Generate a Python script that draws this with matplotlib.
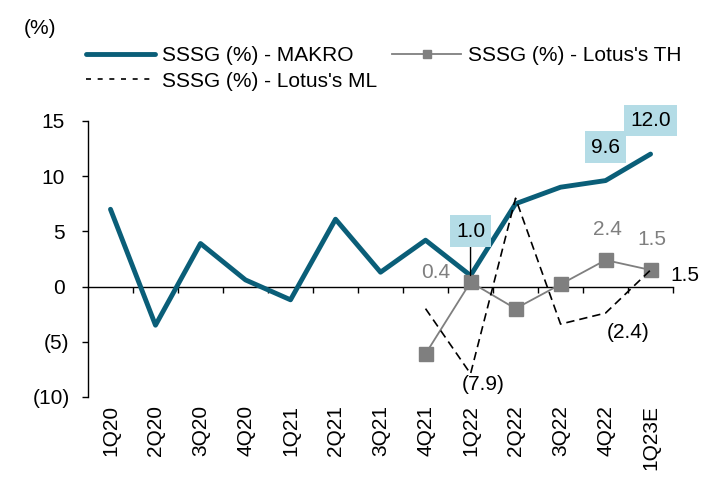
import matplotlib
matplotlib.use("Agg")
import matplotlib.pyplot as plt
from matplotlib.ticker import FuncFormatter
from matplotlib.transforms import ScaledTranslation
import numpy as np

plt.rcParams['font.family'] = ['Liberation Sans', 'DejaVu Sans']

quarters = ["1Q20", "2Q20", "3Q20", "4Q20", "1Q21", "2Q21", "3Q21",
            "4Q21", "1Q22", "2Q22", "3Q22", "4Q22", "1Q23E"]
makro = [7.0, -3.5, 3.9, 0.6, -1.2, 6.1, 1.3, 4.2, 1.0, 7.5, 9.0, 9.6, 12.0]
lotus_th = [np.nan] * 7 + [-6.1, 0.4, -2.0, 0.2, 2.4, 1.5]
lotus_ml = [np.nan] * 7 + [-2.0, -7.9, 8.0, -3.4, -2.4, 1.5]

teal = "#0a5e78"
grey = "#7f7f7f"
box = "#b4dce6"
fs = 15

x = np.arange(len(quarters))

fig = plt.figure(figsize=(7.13, 4.8), dpi=100)
ax = fig.add_axes([0.1234, 0.173, 0.944 - 0.1234, 0.748 - 0.173])

l1, = ax.plot(x, makro, color=teal, lw=3.5, solid_capstyle="round",
              label="SSSG (%) - MAKRO", zorder=3)
l2, = ax.plot(x, lotus_th, color=grey, lw=1.3, marker="s", markersize=10.5,
              label="SSSG (%) - Lotus's TH", zorder=4)
l3, = ax.plot(x, lotus_ml, color="black", lw=1.2, dashes=(5, 3),
              label="SSSG (%) - Lotus's ML", zorder=5)

ax.set_xlim(-0.5, len(quarters) - 0.5)
ax.set_ylim(-10, 15)
ax.set_yticks([-10, -5, 0, 5, 10, 15])
ax.yaxis.set_major_formatter(FuncFormatter(
    lambda v, p: "(%d)" % abs(v) if v < 0 else "%d" % v))
ax.tick_params(axis="y", direction="out", length=4.3, width=1, labelsize=fs, pad=9)
# positive numbers leave room for the closing bracket, like excel
for lab, v in zip(ax.get_yticklabels(), ax.get_yticks()):
    if v >= 0:
        lab.set_transform(lab.get_transform() +
                          ScaledTranslation(-5 / 100, 0, fig.dpi_scale_trans))

# category labels at the bottom
ax.set_xticks(x)
ax.set_xticklabels(quarters, rotation=90, fontsize=fs)
ax.tick_params(axis="x", length=0, pad=6)
for s in ["top", "right", "bottom"]:
    ax.spines[s].set_visible(False)
ax.spines["left"].set_linewidth(1)

# zero line with ticks between categories
sec = ax.secondary_xaxis(0, transform=ax.transData)
sec.set_xticks(np.arange(0.5, len(quarters), 1))
sec.tick_params(direction="out", length=4.3, width=1, labelbottom=False, labeltop=False)
sec.spines["bottom"].set_linewidth(1)

# data labels
bb = dict(boxstyle="square,pad=0.3", fc=box, ec="none")
ax.annotate("%.1f" % makro[8], (x[8], makro[8]), xytext=(0, 32),
            textcoords="offset points", ha="center", va="center", fontsize=fs,
            bbox=bb, zorder=6,
            arrowprops=dict(arrowstyle="-", color="black", lw=1, shrinkA=0, shrinkB=0))
for i in [11, 12]:
    ax.annotate("%.1f" % makro[i], (x[i], makro[i]), xytext=(0, 24),
                textcoords="offset points", ha="center", va="center",
                fontsize=fs, bbox=bb, zorder=6)

ax.annotate("%.1f" % lotus_th[8], (x[8], lotus_th[8]), xytext=(-25, 7),
            textcoords="offset points", ha="center", va="center", fontsize=fs, color=grey)
for i in [11, 12]:
    ax.annotate("%.1f" % lotus_th[i], (x[i], lotus_th[i]), xytext=(1, 22),
                textcoords="offset points", ha="center", va="center",
                fontsize=fs, color=grey)

ml_off = {8: (9, -8), 11: (16, -14), 12: (25, -4)}
for i, off in ml_off.items():
    v = lotus_ml[i]
    txt = "(%.1f)" % abs(v) if v < 0 else "%.1f" % v
    ax.annotate(txt, (x[i], v), xytext=off, textcoords="offset points",
                ha="center", va="center", fontsize=fs, color="black")

fig.text(40 / 713, 1 - 28 / 480, "(%)", fontsize=fs, ha="center", va="center")

leg = fig.legend([l1, l3, l2], [l1.get_label(), l3.get_label(), l2.get_label()],
                 ncol=2, frameon=False, fontsize=fs, loc="upper left",
                 bbox_to_anchor=(76 / 713, 1 - 36 / 480), borderpad=0,
                 handlelength=3.3, handletextpad=0.35, columnspacing=0.7,
                 labelspacing=0.3, numpoints=1)
leg.legend_handles[2].set_markersize(6)
leg.legend_handles[1].set_dashes((3, 4))

fig.savefig("out.png", dpi=100)
